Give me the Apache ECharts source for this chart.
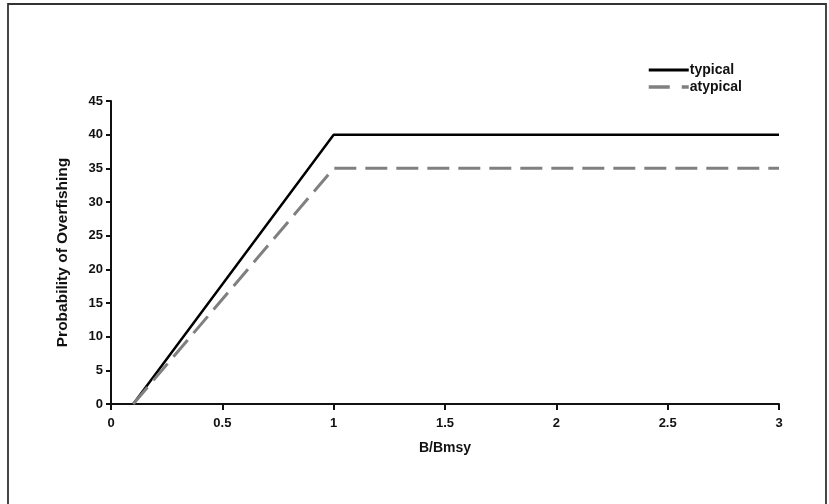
<!DOCTYPE html>
<html>
<head>
<meta charset="utf-8">
<script src="https://cdn.jsdelivr.net/npm/echarts@6/dist/echarts.min.js"></script>
<style>html,body{margin:0;padding:0;background:#fff;}#c{width:829px;height:504px;}</style>
</head>
<body>
<div id="c"></div>
<script>
var seriesNames = ['typical', 'atypical'];
var typicalX = [0.1, 1, 3];
var typicalY = [0, 40, 40];
var atypicalX = [0.1, 1, 3];
var atypicalY = [0, 35, 35];
var xTicks = [0, 0.5, 1, 1.5, 2, 2.5, 3];
var yTicks = [0, 5, 10, 15, 20, 25, 30, 35, 40, 45];

function pairs(xs, ys) { return xs.map(function (x, i) { return [x, ys[i]]; }); }

var font = 'Liberation Sans';
var chart = echarts.init(document.getElementById('c'), null, {renderer: 'canvas'});
chart.setOption({
  animation: false,
  backgroundColor: '#fff',
  textStyle: {fontFamily: font},
  graphic: [{
    type: 'rect', silent: true,
    shape: {x: 8, y: 4, width: 818, height: 520},
    style: {fill: null, stroke: '#333', lineWidth: 1.8}
  }],
  legend: {
    orient: 'vertical', left: 642, top: 58, itemGap: 3,
    itemWidth: 40, itemHeight: 15,
    itemStyle: {opacity: 0},
    data: [
      {name: seriesNames[0], lineStyle: {width: 3, color: '#000'}},
      {name: seriesNames[1], lineStyle: {width: 3.5, color: '#808080', type: [21, 12]}}
    ],
    textStyle: {fontFamily: font, fontWeight: 'bold', fontSize: 14, color: '#111', padding: [0, 0, 0, -4]}
  },
  grid: {left: 111, right: 50, top: 101, bottom: 100, containLabel: false},
  xAxis: {
    type: 'value', min: 0, max: 3, interval: 0.5,
    name: 'B/Bmsy', nameLocation: 'middle', nameGap: 37,
    nameTextStyle: {fontFamily: font, fontWeight: 'bold', fontSize: 14, color: '#111'},
    axisLine: {show: true, lineStyle: {color: '#111', width: 2}},
    axisTick: {show: true, length: 6, lineStyle: {color: '#111', width: 2}},
    axisLabel: {fontFamily: font, fontWeight: 'bold', fontSize: 13, color: '#111', margin: 13,
      formatter: function (v) { return xTicks.indexOf(v) >= 0 ? String(v) : ''; }},
    splitLine: {show: false}
  },
  yAxis: {
    type: 'value', min: 0, max: 45, interval: 5,
    name: 'Probability of Overfishing', nameLocation: 'middle', nameGap: 40,
    nameTextStyle: {fontFamily: font, fontWeight: 'bold', fontSize: 15.5, color: '#111'},
    axisLine: {show: true, lineStyle: {color: '#111', width: 2}},
    axisTick: {show: true, length: 5, lineStyle: {color: '#111', width: 2}},
    axisLabel: {fontFamily: font, fontWeight: 'bold', fontSize: 13, color: '#111', margin: 8,
      formatter: function (v) { return yTicks.indexOf(v) >= 0 ? String(v) : ''; }},
    splitLine: {show: false}
  },
  series: [
    {
      name: seriesNames[0], type: 'line', data: pairs(typicalX, typicalY),
      symbol: 'none', color: '#000',
      lineStyle: {color: '#000', width: 2.5}
    },
    {
      name: seriesNames[1], type: 'line', data: pairs(atypicalX, atypicalY),
      symbol: 'none', color: '#808080',
      lineStyle: {color: '#808080', width: 3, type: [22, 9]}
    }
  ]
});
</script>
</body>
</html>
